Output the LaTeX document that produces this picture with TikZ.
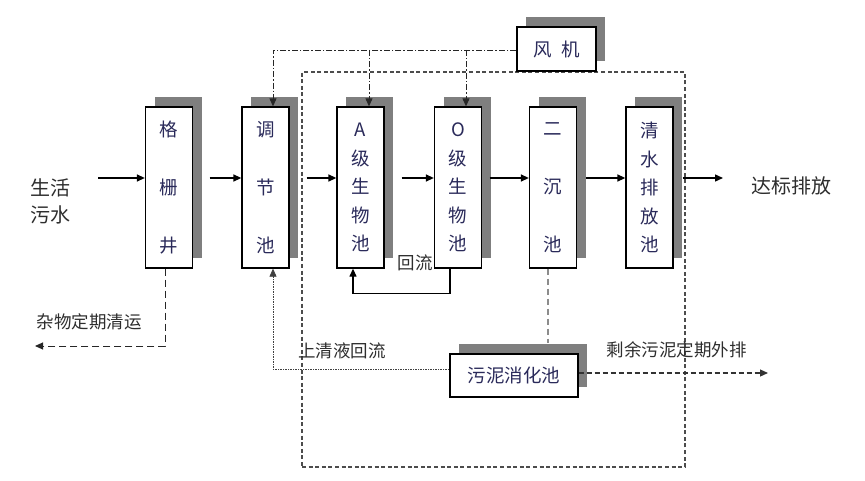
\documentclass[tikz,border=0pt]{standalone}
\usepackage{fontspec}
\setmainfont{Noto Sans CJK SC}
\usetikzlibrary{arrows.meta,shadows,calc}
\definecolor{shd}{HTML}{7F7F7F}
\definecolor{navy}{HTML}{2A2A5A}
\definecolor{lbl}{HTML}{2E2E2E}
\begin{document}
\begin{tikzpicture}[x=1pt,y=-1pt,
  tip/.style={-{Triangle[length=8pt,width=7pt]}},
  flow/.style={tip, line width=1.4pt, black},
  shadowed/.style={drop shadow={shadow xshift=9pt, shadow yshift=10pt, fill=shd, opacity=1}},
  pool/.style={shadowed, draw=black, fill=white, line width=1.3pt, minimum width=47pt,
    minimum height=161pt, inner sep=0pt, text=navy, align=center},
  pool3/.style={pool, font=\fontsize{18.5}{58}\selectfont},
  pool5/.style={pool, font=\fontsize{18.5}{28.5}\selectfont},
  smallbox/.style={shadowed, draw=black, fill=white, line width=1.3pt, inner sep=0pt, text=navy},
  lab/.style={text=lbl, inner sep=1pt, font=\fontsize{17.5}{20}\selectfont},
  biglab/.style={text=lbl, inner sep=1pt, align=left, font=\fontsize{20}{27}\selectfont},
  air/.style={tip, line width=0.9pt, draw=black!85, dash pattern=on 6pt off 2pt on 1.5pt off 2pt},
  zonedash/.style={draw=black!70, line width=1.3pt, dash pattern=on 4pt off 2.6pt},
  sludgedash/.style={draw=black!45, line width=2pt, dash pattern=on 6pt off 4pt},
  thindot/.style={tip, draw=black!75, line width=0.8pt, dash pattern=on 1.5pt off 1pt},
  junkdash/.style={tip, draw=black!85, line width=1pt, dash pattern=on 7pt off 4pt},
  outdash/.style={tip, draw=black!80, line width=1.2pt, dash pattern=on 5pt off 3pt}
]
\useasboundingbox (0,0) rectangle (865,481);

% dashed zone
\node[zonedash, minimum width=383pt, minimum height=395pt, inner sep=0pt] (zone) at (493.5,269.5) {};

% boxes
\node[pool3] (gs) at (169,187.5) {格\\栅\\井};
\node[pool3] (tj) at (265.5,187.5) {调\\节\\池};
\node[pool5] (A) at (360.5,187.5) {A\\级\\生\\物\\池};
\node[pool5] (O) at (458,187.5) {O\\级\\生\\物\\池};
\node[pool3] (ec) at (553,187.5) {二\\沉\\池};
\node[pool5] (qs) at (649.5,187.5) {清\\水\\排\\放\\池};
\node[smallbox, minimum width=79pt, minimum height=44pt, font=\fontsize{18.5}{20}\selectfont] (fan) at (556.5,49) {风\hspace{0.5em}机};
\node[smallbox, minimum width=128pt, minimum height=43pt, font=\fontsize{18.5}{20}\selectfont] (sl) at (514,375.5) {污泥消化池};

% labels
\node[biglab] (inlab) at (50.5,201) {生活\\污水};
\node[biglab] (outlab) at (791.5,186) {达标排放};
\node[lab] (junklab) at (89,322) {杂物定期清运};
\node[lab] (sup) at (342,351) {上清液回流};
\node[lab] (exlab) at (676.5,350) {剩余污泥定期外排};
\node[lab, fill=white] (retlab) at (415,263) {回流};

% main row coordinates
\coordinate (row) at (0,178);
\coordinate (inS) at (98,178);
\coordinate (outE) at (723,178);

\draw[flow] (inS) -- (gs.west |- row);
\draw[flow] ($(gs.east |- row)+(16.5,0)$) -- (tj.west |- row);
\draw[flow] ($(tj.east |- row)+(17,0)$) -- (A.west |- row);
\draw[flow] ($(A.east |- row)+(17,0)$) -- (O.west |- row);
\draw[flow] ($(O.east |- row)+(7.5,0)$) -- (ec.west |- row);
\draw[flow] ($(ec.east |- row)+(9,0)$) -- (qs.west |- row);
\draw[flow] ($(qs.east |- row)+(9,0)$) -- (outE);

% air lines
\coordinate (fanL) at ($(fan.west)+(0,1)$);
\coordinate (tjAir) at ($(tj.north)+(7.5,0)$);
\coordinate (Aair) at ($(A.north)+(8.5,0)$);
\coordinate (Oair) at ($(O.north)+(8,0)$);
\draw[air] (fanL) -| (tjAir);
\draw[air] (Aair |- fanL) -- (Aair);
\draw[air] (Oair |- fanL) -- (Oair);

% return flow O -> A
\coordinate (Oret) at ($(O.south)+(-8,0)$);
\coordinate (Aret) at ($(A.south)+(-7.5,0)$);
\draw[flow, line width=1.2pt] (Oret) -- ++(0,25) -| (Aret);

% junk removal
\coordinate (gsJ) at ($(gs.south)+(-4,0)$);
\coordinate (junkE) at (35,346);
\draw[junkdash] (gsJ) |- (junkE);

% sludge from secondary clarifier
\coordinate (ecS) at ($(ec.south)+(-5.5,0)$);
\coordinate (slTop) at ($(sl.north)+(0,-10)$);
\draw[sludgedash] (ecS) -- (ecS |- slTop);

% supernatant return
\coordinate (slW) at ($(sl.west)+(0,-6.5)$);
\coordinate (tjRet) at ($(tj.south)+(7.5,0)$);
\draw[thindot] (slW) -| (tjRet);

% excess sludge
\coordinate (slE) at ($(sl.east)+(0,-2.5)$);
\coordinate (exE) at (768,373);
\draw[outdash] (slE) -- (exE);
\end{tikzpicture}
\end{document}
